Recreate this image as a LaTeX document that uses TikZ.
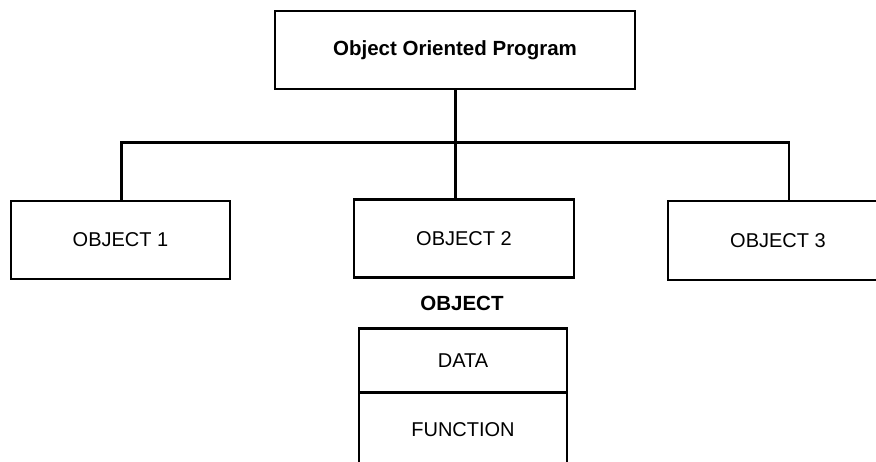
\documentclass[tikz,border=0pt]{standalone}
\usepackage{fontspec}
\setmainfont{Liberation Sans}
\begin{document}
\begin{tikzpicture}[x=1pt,y=-1pt,
  box/.style={draw=black, line width=2.2pt, fill=white, inner sep=0pt, outer sep=0pt,
    font=\fontsize{20}{23}\selectfont},
  wire/.style={draw=black, line width=2.2pt, line join=miter},
  title/.style={font=\fontsize{20.5}{23}\selectfont\bfseries}]
  \useasboundingbox (0,0) rectangle (876,461);
  \clip (0,0) rectangle (876,461);

  % class hierarchy
  \node[box, title, minimum width=360pt, minimum height=78.5pt] (prog) at (455,50) {Object Oriented Program};
  \node[box, minimum width=219pt, minimum height=77.5pt] (obj1) at (120.5,240) {OBJECT 1};
  \node[box, minimum width=220pt, minimum height=78pt] (obj2) at (464,238.5) {OBJECT 2};
  \node[box, minimum width=220pt, minimum height=79pt] (obj3) at (778,240.5) {OBJECT 3};

  \coordinate (jA) at (121.5,142.5);
  \coordinate (jB) at (455.5,142.5);
  \coordinate (jC) at (789,142.5);

  \draw[wire] (obj1.north -| jA) -- (jA) -- (jC) -- (obj3.north -| jC);
  \draw[wire] (prog.south -| jB) -- (jB) -- (obj2.north -| jB);

  % structure of an object
  \node[title] (olabel) at (462,303) {OBJECT};
  \node[box, minimum width=208pt, minimum height=64pt] (data) at (463,360.5) {DATA};
  \node[box, minimum width=208pt, minimum height=80pt, anchor=north] (func) at (data.south) {};
  \node[font=\fontsize{20}{23}\selectfont] (ftext) at (463,430) {FUNCTION};
\end{tikzpicture}
\end{document}
